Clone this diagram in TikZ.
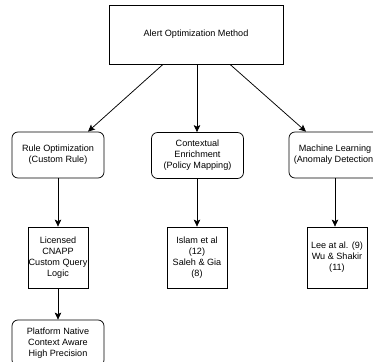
\documentclass[tikz,border=0pt]{standalone}
\usepackage{fontspec}
\setmainfont{Liberation Sans}
\usetikzlibrary{arrows.meta}
\begin{document}
\begin{tikzpicture}[x=1pt,y=1pt,
  every node/.style={font=\fontsize{9.1}{11}\selectfont, align=center, inner sep=0pt, line width=0.75pt, draw=black},
  sqbox/.style={rectangle},
  rbox/.style={rectangle, rounded corners=6pt, minimum width=92pt, minimum height=46pt},
  leaf/.style={rectangle, minimum width=60pt, minimum height=61pt},
  arr/.style={line width=0.75pt, -{Stealth[length=7pt,width=6.5pt,inset=1.5pt]}}]
\useasboundingbox (0,0) rectangle (373,-362);
\clip (0,0) rectangle (373,-362);
\node[sqbox, minimum width=174pt, minimum height=59pt] (top) at (196,-34.5) {Alert Optimization Method};
\node[rbox] (rule) at (58,-155) {Rule Optimization\\(Custom Rule)};
\node[rbox] (ctx) at (197.5,-155.5) {Contextual\\Enrichment\\(Policy Mapping)};
\node[rbox] (ml) at (335,-155) {Machine Learning\\(Anomaly Detection)};
\node[leaf] (lic) at (58,-257.5) {Licensed\\CNAPP\\Custom Query\\Logic};
\node[leaf] (isl) at (197,-257.5) {Islam et al\\(12)\\Saleh \& Gia\\(8)};
\node[leaf] (lee) at (337,-257.5) {Lee at al. (9)\\Wu \& Shakir\\(11)};
\node[rbox] (plat) at (58,-343) {Platform Native\\Context Aware\\High Precision};
\draw[arr] ([xshift=-33pt]top.south) -- ([xshift=30pt]rule.north);
\draw[arr] ([xshift=1pt]top.south) -- (ctx.north -| isl.north);
\draw[arr] ([xshift=34pt]top.south) -- ([xshift=-29pt]ml.north);
\draw[arr] (rule.south) -- (lic.north);
\draw[arr] (ctx.south -| isl.north) -- (isl.north);
\draw[arr] (ml.south) -- (ml.south |- lee.north);
\draw[arr] (lic.south) -- (plat.north);
\end{tikzpicture}
\end{document}
